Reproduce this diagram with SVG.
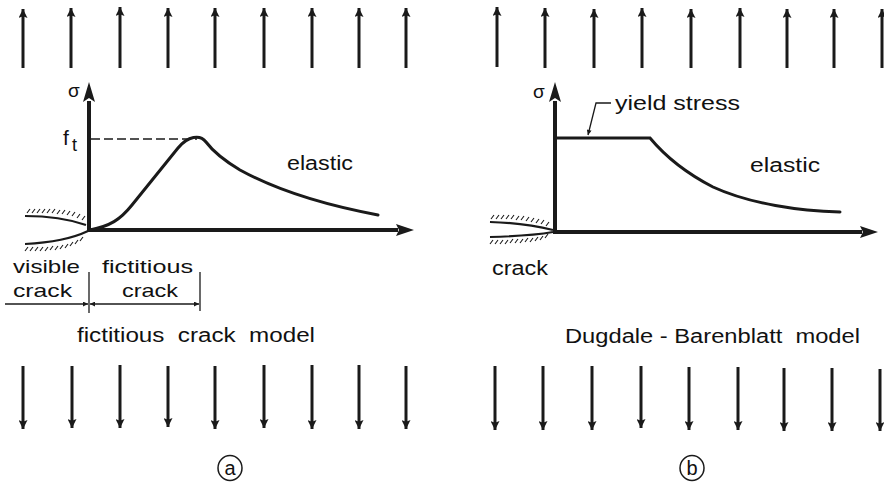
<svg xmlns="http://www.w3.org/2000/svg" width="884" height="492" viewBox="0 0 884 492">
<style>
.t{font-family:"Liberation Sans",Arial,sans-serif;fill:#111}
.load{stroke:#1a1a1a;stroke-width:3;fill:none;marker-end:url(#ah)}
.axis{stroke:#1a1a1a;stroke-width:4;fill:none}
.curve{stroke:#1a1a1a;stroke-width:3;fill:none;stroke-linecap:round}
.thin{stroke:#1a1a1a;stroke-width:1.3;fill:none}
.surf{stroke:#1a1a1a;stroke-width:2.2;fill:none}
.hatch{stroke:#1a1a1a;stroke-width:1.1;fill:none}
</style>
<defs>
<marker id="ah" viewBox="0 0 10 10" refX="10" refY="5" markerUnits="userSpaceOnUse" markerWidth="15" markerHeight="9" orient="auto">
<path d="M0,0 L10,5 L0,10 L2,5 z" fill="#1a1a1a"/>
</marker>
<marker id="sm" viewBox="0 0 10 10" refX="10" refY="5" markerUnits="userSpaceOnUse" markerWidth="9" markerHeight="5" orient="auto-start-reverse">
<path d="M0,0 L10,5 L0,10 z" fill="#1a1a1a"/>
</marker>
</defs>

<g id="loads-top-a">
<line class="load" x1="23" y1="68" x2="23" y2="9"/>
<line class="load" x1="71" y1="68" x2="71" y2="8"/>
<line class="load" x1="120" y1="68" x2="120" y2="7"/>
<line class="load" x1="168" y1="68" x2="168" y2="8"/>
<line class="load" x1="215" y1="68" x2="215" y2="8"/>
<line class="load" x1="264" y1="68" x2="264" y2="8"/>
<line class="load" x1="312" y1="68" x2="312" y2="8"/>
<line class="load" x1="359" y1="68" x2="359" y2="8"/>
<line class="load" x1="406" y1="68" x2="406" y2="8"/>
</g>
<g id="loads-top-b">
<line class="load" x1="497" y1="67" x2="497" y2="7"/>
<line class="load" x1="545" y1="68" x2="545" y2="8"/>
<line class="load" x1="594" y1="68" x2="594" y2="9"/>
<line class="load" x1="642" y1="68" x2="642" y2="8"/>
<line class="load" x1="691" y1="68" x2="691" y2="9"/>
<line class="load" x1="740" y1="68" x2="740" y2="8"/>
<line class="load" x1="787" y1="68" x2="787" y2="9"/>
<line class="load" x1="834" y1="68" x2="834" y2="9"/>
<line class="load" x1="882" y1="68" x2="882" y2="9"/>
</g>
<g id="loads-bottom-a">
<line class="load" x1="23" y1="366" x2="23" y2="429"/>
<line class="load" x1="72" y1="366" x2="72" y2="428"/>
<line class="load" x1="120" y1="365" x2="120" y2="428"/>
<line class="load" x1="168" y1="366" x2="168" y2="427"/>
<line class="load" x1="215" y1="366" x2="215" y2="429"/>
<line class="load" x1="264" y1="365" x2="264" y2="428"/>
<line class="load" x1="312" y1="365" x2="312" y2="429"/>
<line class="load" x1="359" y1="365" x2="359" y2="429"/>
<line class="load" x1="406" y1="366" x2="406" y2="429"/>
</g>
<g id="loads-bottom-b">
<line class="load" x1="495" y1="366" x2="495" y2="430"/>
<line class="load" x1="543" y1="366" x2="543" y2="430"/>
<line class="load" x1="592" y1="366" x2="592" y2="430"/>
<line class="load" x1="641" y1="366" x2="641" y2="428"/>
<line class="load" x1="689" y1="367" x2="689" y2="430"/>
<line class="load" x1="738" y1="367" x2="738" y2="430"/>
<line class="load" x1="784" y1="368" x2="784" y2="431"/>
<line class="load" x1="832" y1="368" x2="832" y2="431"/>
<line class="load" x1="880" y1="369" x2="880" y2="431"/>
</g>

<g id="panel-a">
<g id="axes-a">
<line class="axis" x1="89" y1="232" x2="89" y2="101" />
<path d="M89,82 L95,102 L89,98 L83,102 z" fill="#1a1a1a"/>
<line class="axis" x1="88" y1="230" x2="398" y2="230"/>
<path d="M414,230 L396,224 L399,230 L396,236 z" fill="#1a1a1a"/>
</g>
<text class="t" x="68" y="97" font-size="19">σ</text>
<text class="t" x="63" y="145" font-size="21">f</text>
<text class="t" x="72" y="151" font-size="18">t</text>
<line class="thin" x1="91" y1="139" x2="197" y2="139" stroke-dasharray="9,4"/>
<path class="curve" d="M90,230 C110,226 120,220 132,205 L178,148 C188,136 200,134 206,142 C212,150 220,158 240,170 C280,192 330,206 378,215"/>
<text class="t" x="287" y="170" font-size="20" textLength="66" lengthAdjust="spacingAndGlyphs">elastic</text>
<g id="crack-a">
<path class="surf" d="M25,216 Q60,216 86,225"/>
<path class="surf" d="M25,244 Q65,242 88,231"/>
<path class="hatch" d="M27,213 l3,-4 M32,213 l3,-4 M37,213 l3,-4 M42,213 l3,-4 M47,213 l3,-4 M52,213 l3,-4 M57,214 l3,-4 M62,214 l3,-4 M67,215 l3,-4 M72,216 l3,-4 M77,218 l3,-4 M82,220 l3,-4"/>
<path class="hatch" d="M25,251 l3,-4 M30,251 l3,-4 M35,251 l3,-4 M40,251 l3,-4 M45,251 l3,-4 M50,250 l3,-4 M55,250 l3,-4 M60,249 l3,-4 M65,248 l3,-4 M70,246 l3,-4 M75,244 l3,-4 M80,241 l3,-4"/>
</g>
<g id="dims-a">
<text class="t" x="13" y="273" font-size="19" textLength="67" lengthAdjust="spacingAndGlyphs">visible</text>
<text class="t" x="13" y="297" font-size="19" textLength="59" lengthAdjust="spacingAndGlyphs">crack</text>
<text class="t" x="102" y="273" font-size="19" textLength="91" lengthAdjust="spacingAndGlyphs">fictitious</text>
<text class="t" x="122" y="297" font-size="19" textLength="56" lengthAdjust="spacingAndGlyphs">crack</text>
<line class="thin" x1="89" y1="272" x2="89" y2="313"/>
<line class="thin" x1="200" y1="272" x2="200" y2="311"/>
<line class="thin" x1="5" y1="304" x2="88" y2="304" marker-end="url(#sm)"/>
<line class="thin" x1="90" y1="304" x2="199" y2="304" marker-start="url(#sm)" marker-end="url(#sm)"/>
</g>
<text class="t" x="77" y="342" font-size="20" textLength="238" lengthAdjust="spacingAndGlyphs" xml:space="preserve">fictitious  crack  model</text>
</g>

<g id="panel-b">
<g id="axes-b">
<line class="axis" x1="555" y1="234" x2="555" y2="101"/>
<path d="M555,82 L561,102 L555,98 L549,102 z" fill="#1a1a1a"/>
<line class="axis" x1="554" y1="232" x2="862" y2="232"/>
<path d="M878,232 L860,226 L863,232 L860,238 z" fill="#1a1a1a"/>
</g>
<text class="t" x="533" y="98" font-size="19">σ</text>
<path class="curve" d="M556,138 L650,138 C660,150 680,170 713,187 C750,204 800,211 840,212"/>
<text class="t" x="750" y="172" font-size="20" textLength="70" lengthAdjust="spacingAndGlyphs">elastic</text>
<text class="t" x="615" y="110" font-size="20" textLength="125" lengthAdjust="spacingAndGlyphs">yield stress</text>
<polyline class="thin" points="611,103 596,103 588,135" marker-end="url(#sm)"/>
<g id="crack-b">
<path class="surf" d="M490,222 Q525,223 553,230"/>
<path class="surf" d="M490,237 Q530,236 553,232"/>
<path class="hatch" d="M491,219 l3,-4 M496,219 l3,-4 M501,219 l3,-4 M506,219 l3,-4 M511,219 l3,-4 M516,220 l3,-4 M521,220 l3,-4 M526,221 l3,-4 M531,222 l3,-4 M536,223 l3,-4 M541,224 l3,-4 M546,226 l3,-4"/>
<path class="hatch" d="M490,244 l3,-4 M495,244 l3,-4 M500,244 l3,-4 M505,244 l3,-4 M510,243 l3,-4 M515,243 l3,-4 M520,243 l3,-4 M525,242 l3,-4 M530,242 l3,-4 M535,241 l3,-4 M540,240 l3,-4 M545,238 l3,-4"/>
</g>
<text class="t" x="492" y="275" font-size="20" textLength="56" lengthAdjust="spacingAndGlyphs">crack</text>
<text class="t" x="565" y="343" font-size="20" textLength="295" lengthAdjust="spacingAndGlyphs" xml:space="preserve">Dugdale - Barenblatt  model</text>
</g>

<g id="label-a">
<ellipse cx="230" cy="468" rx="12" ry="12.5" fill="none" stroke="#1a1a1a" stroke-width="1.5"/>
<text class="t" x="230" y="475" font-size="20" text-anchor="middle">a</text>
</g>
<g id="label-b">
<ellipse cx="692" cy="468" rx="12" ry="12.5" fill="none" stroke="#1a1a1a" stroke-width="1.5"/>
<text class="t" x="692" y="475" font-size="20" text-anchor="middle">b</text>
</g>
</svg>
